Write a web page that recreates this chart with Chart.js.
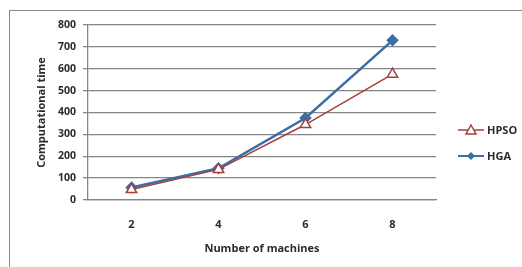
<!DOCTYPE html>
<html>
<head>
<meta charset="utf-8">
<script src="https://cdn.jsdelivr.net/npm/chart.js@4"></script>
<style>
  html, body { margin: 0; padding: 0; background: #fff; }
  canvas { display: block; }
</style>
</head>
<body>
<canvas id="chart" width="522" height="267"></canvas>
<script>
const machines = ['2', '4', '6', '8'];
const hpsoTimes = [48, 140, 345, 575];
const hgaTimes = [57, 145, 375, 730];
const seriesNames = ['HPSO', 'HGA'];

const redColor = '#A5403D';
const blueColor = '#3C6DA8';
const gridColor = '#858585';
const textColor = '#2b2b2b';
const fontFamily = '"Open Sans", "Liberation Sans", sans-serif';

// outer frame + hand-made legend (line with marker, like Excel)
const framePlugin = {
    id: 'frame',
    beforeDraw(chart) {
        const ctx = chart.ctx;
        ctx.save();
        ctx.strokeStyle = '#8a8a8a';
        ctx.lineWidth = 1;
        ctx.strokeRect(9.5, 10.5, 600, 400);
        ctx.restore();
    },
    afterDraw(chart) {
        const ctx = chart.ctx;
        ctx.save();
        ctx.font = 'bold 11px ' + fontFamily;
        ctx.textBaseline = 'middle';
        const items = [
            { name: seriesNames[0], color: redColor, y: 130, marker: 'tri' },
            { name: seriesNames[1], color: blueColor, y: 156, marker: 'dia' },
        ];
        items.forEach((it) => {
            ctx.strokeStyle = it.color;
            ctx.lineWidth = it.marker === 'tri' ? 1.5 : 2;
            ctx.beginPath();
            ctx.moveTo(458, it.y);
            ctx.lineTo(484, it.y);
            ctx.stroke();
            ctx.beginPath();
            if (it.marker === 'tri') {
                ctx.moveTo(471, it.y - 5);
                ctx.lineTo(476, it.y + 4);
                ctx.lineTo(466, it.y + 4);
                ctx.closePath();
                ctx.fillStyle = '#fff';
                ctx.fill();
                ctx.stroke();
            } else {
                ctx.moveTo(471, it.y - 4);
                ctx.lineTo(475, it.y);
                ctx.lineTo(471, it.y + 4);
                ctx.lineTo(467, it.y);
                ctx.closePath();
                ctx.fillStyle = it.color;
                ctx.fill();
            }
            ctx.fillStyle = textColor;
            ctx.fillText(it.name, 487, it.y + 1);
        });
        ctx.restore();
    }
};

const ctx = document.getElementById('chart').getContext('2d');
new Chart(ctx, {
    type: 'line',
    data: {
        labels: machines,
        datasets: [{
            label: seriesNames[0],
            data: hpsoTimes,
            borderColor: redColor,
            backgroundColor: '#fff',
            borderWidth: 1.5,
            pointStyle: 'triangle',
            pointRadius: 6,
            pointBorderWidth: 1.5,
            pointBackgroundColor: '#fff',
            tension: 0,
        }, {
            label: seriesNames[1],
            data: hgaTimes,
            borderColor: blueColor,
            backgroundColor: blueColor,
            borderWidth: 2.5,
            pointStyle: 'rectRot',
            pointRadius: 4.5,
            pointBackgroundColor: blueColor,
            tension: 0,
        }]
    },
    options: {
        responsive: false,
        animation: false,
        layout: { padding: { left: 31, right: 86, top: 25, bottom: 8 } },
        plugins: {
            legend: { display: false },
            tooltip: { enabled: false },
        },
        scales: {
            x: {
                offset: true,
                grid: { display: false },
                border: { color: gridColor, width: 1.3 },
                ticks: {
                    color: textColor,
                    padding: 10,
                    font: { family: fontFamily, size: 11, weight: 'bold' },
                },
                title: {
                    display: true,
                    text: 'Number of machines',
                    color: textColor,
                    font: { family: fontFamily, size: 11, weight: 'bold' },
                    padding: { top: 12 },
                },
                afterFit: (s) => { s.height = 267 - 200 - 8; },
            },
            y: {
                min: 0,
                max: 800,
                ticks: {
                    stepSize: 100,
                    color: textColor,
                    padding: 7,
                    font: { family: fontFamily, size: 10.5, weight: 'bold' },
                },
                grid: { color: gridColor, lineWidth: 1.3, tickLength: 5 },
                border: { color: gridColor, width: 1.3 },
                title: {
                    display: true,
                    text: 'Computational time',
                    color: textColor,
                    font: { family: fontFamily, size: 11, weight: 'bold' },
                },
                afterFit: (s) => { s.width = 88 - 31; },
            },
        },
    },
    plugins: [framePlugin],
});
</script>
</body>
</html>
